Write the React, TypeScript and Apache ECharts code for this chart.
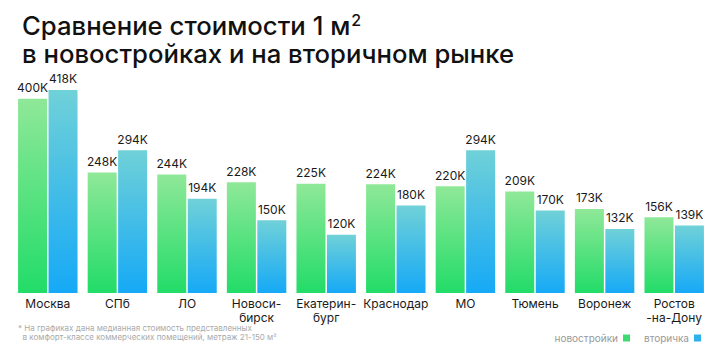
import React, { useEffect, useRef } from "react";
import * as echarts from "echarts";

const categories = [
  "Москва",
  "СПб",
  "ЛО",
  "Новоси-\nбирск",
  "Екатерин-\nбург",
  "Краснодар",
  "МО",
  "Тюмень",
  "Воронеж",
  "Ростов\n-на-Дону",
];
const newBuild = [400, 248, 244, 228, 225, 224, 220, 209, 173, 156];
const secondary = [418, 294, 194, 150, 120, 180, 294, 170, 132, 139];
const seriesNames = ["новостройки", "вторичка"];
const titleLine1 = "Сравнение стоимости 1 м";
const titleSup = "2";
const titleLine2 = "в новостройках и на вторичном рынке";
const footnoteLines = [
  "* На графиках дана медианная стоимость представленных",
  "  в комфорт-классе коммерческих помещений, метраж 21-150 м²",
];

const FONT = "Inter, 'Noto Sans', sans-serif";

const greenGrad = new echarts.graphic.LinearGradient(0, 0, 0, 1, [
  { offset: 0, color: "#8fe898" },
  { offset: 1, color: "#22dc68" },
]);
const blueGrad = new echarts.graphic.LinearGradient(0, 0, 0, 1, [
  { offset: 0, color: "#70d1d8" },
  { offset: 1, color: "#16a9f6" },
]);

export default function App() {
  const ref = useRef<HTMLDivElement>(null);
  useEffect(() => {
    if (!ref.current) return;
    const chart = echarts.init(ref.current, null, { renderer: "svg" });
    const label = {
      show: true,
      position: "top" as const,
      distance: 5,
      color: "#1a1a1a",
      fontSize: 12,
      fontFamily: FONT,
      formatter: (p: any) => p.value + "K",
    };
    chart.setOption({
      animation: false,
      backgroundColor: "#ffffff",
      title: {
        text: titleLine1 + "{sup|" + titleSup + "}\n" + titleLine2,
        left: 17,
        top: 6,
        textStyle: {
          fontFamily: FONT,
          fontSize: 25.7,
          fontWeight: 500,
          color: "#111111",
          lineHeight: 28,
          rich: {
            sup: {
              fontFamily: FONT,
              fontSize: 16,
              fontWeight: 500,
              color: "#111111",
              lineHeight: 16,
              verticalAlign: "top",
              padding: [1, 0, 0, 1],
            },
          },
        },
      },
      graphic: [
        {
          type: "text",
          left: 18,
          top: 323,
          style: {
            text: footnoteLines.join("\n"),
            fontFamily: FONT,
            fontSize: 8,
            lineHeight: 9.5,
            fill: "#aaaaaa",
          },
        },
      ],
      legend: {
        right: 14,
        top: 328,
        align: "right",
        itemWidth: 7,
        itemHeight: 7,
        itemGap: 14,
        icon: "rect",
        textStyle: { fontFamily: FONT, fontSize: 10, color: "#999999" },
        data: [
          { name: seriesNames[0], itemStyle: { color: "#3ddc72" } },
          { name: seriesNames[1], itemStyle: { color: "#2fb1ee" } },
        ],
      },
      grid: { left: 13, right: 11, top: 89, bottom: 59, containLabel: false },
      xAxis: {
        type: "category",
        data: categories,
        axisLine: { show: false },
        axisTick: { show: false },
        axisLabel: {
          color: "#1a1a1a",
          fontSize: 12,
          fontFamily: FONT,
          lineHeight: 14,
          margin: 3,
          interval: 0,
        },
      },
      yAxis: {
        type: "value",
        min: 0,
        max: 420,
        show: false,
        splitLine: { show: false },
      },
      series: [
        {
          name: seriesNames[0],
          type: "bar",
          data: newBuild,
          barWidth: 29,
          barGap: "5%",
          itemStyle: { color: greenGrad },
          label,
        },
        {
          name: seriesNames[1],
          type: "bar",
          data: secondary,
          barWidth: 29,
          barGap: "5%",
          itemStyle: { color: blueGrad },
          label,
        },
      ],
    });
    return () => chart.dispose();
  }, []);
  return <div ref={ref} style={{ width: 720, height: 352, position: "absolute", left: 0, top: 0 }} />;
}
